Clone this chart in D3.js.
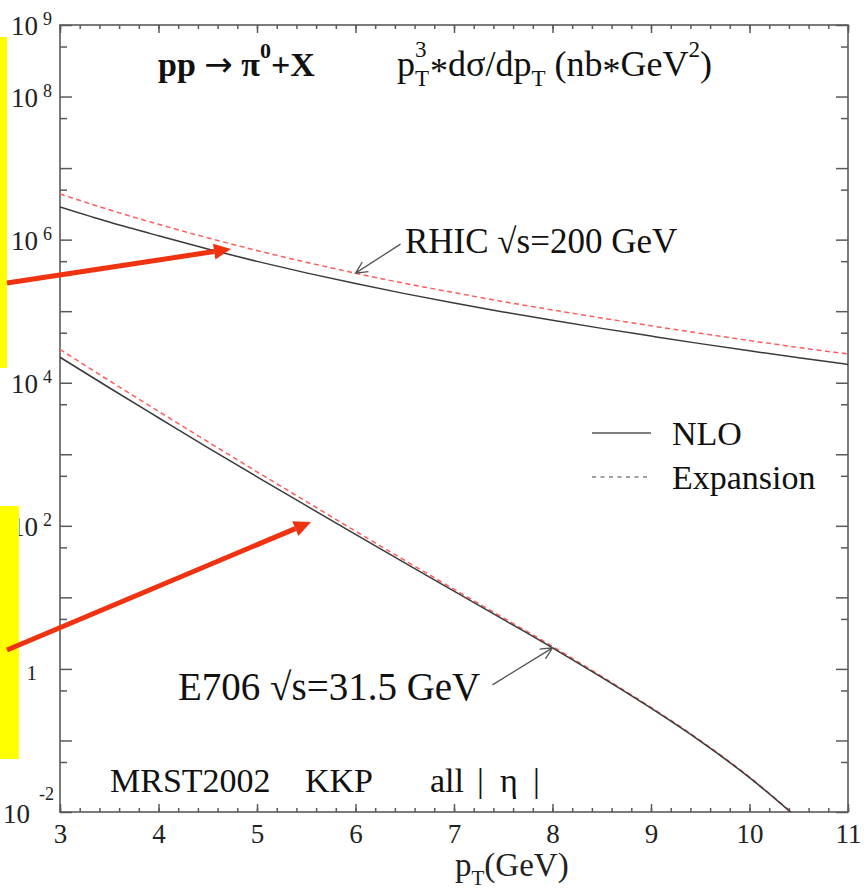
<!DOCTYPE html>
<html>
<head>
<meta charset="utf-8">
<script src="https://cdn.jsdelivr.net/npm/d3@7"></script>
<style>
  body { margin: 0; background: #fff; }
  svg { display: block; }
  svg text { font-family: 'Liberation Serif', 'Times New Roman', serif; }
  .axis path.domain { display: none; }
  .axis line { stroke: #5a5a5a; stroke-width: 1.5; }
  .axis text { font-family: 'Liberation Serif', serif; font-size: 27px; fill: #222; }
</style>
</head>
<body>
<svg id="chart" width="864" height="894"></svg>
<script>
// transverse momentum grid (GeV)
var pT = [3, 3.5, 4, 4.5, 5, 5.5, 6, 6.5, 7, 7.5, 8, 8.5, 9, 9.5, 10, 10.5, 11];

// pT^3 * dsigma/dpT (nb*GeV^2)
var rhicNLO = [2.86e6, 1.76e6, 1.13e6, 7.38e5, 4.97e5, 3.43e5, 2.43e5, 1.76e5, 1.30e5,
               9.77e4, 7.45e4, 5.75e4, 4.49e4, 3.52e4, 2.79e4, 2.23e4, 1.80e4];
var rhicExp = [4.35e6, 2.61e6, 1.64e6, 1.06e6, 7.05e5, 4.83e5, 3.40e5, 2.45e5, 1.82e5,
               1.36e5, 1.04e5, 8.02e4, 6.25e4, 4.91e4, 3.89e4, 3.11e4, 2.52e4];
var e706NLO = [2.27e4, 8.51e3, 3.24e3, 1.24e3, 484, 191, 75.9, 30.3, 12.2,
               4.92, 1.97, 0.759, 0.282, 0.0977, 0.0302, 0.00794];
var e706Exp = [2.92e4, 1.07e4, 3.98e3, 1.50e3, 569, 219, 84.1, 32.9, 13.0,
               5.18, 2.06, 0.785, 0.290, 0.100, 0.0308, 0.00804];

var xTickValues = [3, 4, 5, 6, 7, 8, 9, 10, 11];
var yLabelExponents = [9, 8, 6, 4, 2, 0, -2];
var legendNames = ['NLO', 'Expansion'];

(function drawChart() {
  var svg = d3.select('#chart'),
      left = 60, top = 25, right = 848, bottom = 812;

  var x = d3.scaleLinear().domain([3, 11]).range([left, right]);
  var y = d3.scaleLog().domain([1e-2, 1e9]).range([bottom, top]);

  // tick positions
  var xMinor = d3.range(0, 41).map(function(i) { return 3 + i * 0.2; });
  var decades = d3.range(-2, 10).map(function(e) { return Math.pow(10, e); });
  var yMinor = d3.range(-2, 9).map(function(e) { return 5 * Math.pow(10, e); });

  // Clip for the curves
  svg.append('clipPath').attr('id', 'plotClip')
    .append('rect')
      .attr('x', left).attr('y', top)
      .attr('width', right - left).attr('height', bottom - top);

  // Ticks, all pointing inwards
  svg.append('g').attr('class', 'axis')
    .attr('transform', 'translate(0,' + bottom + ')')
    .call(d3.axisBottom(x).tickValues(xMinor).tickSize(-4).tickFormat(''));
  svg.append('g').attr('class', 'axis')
    .attr('transform', 'translate(0,' + bottom + ')')
    .call(d3.axisBottom(x).tickValues(xTickValues).tickSize(-8).tickPadding(12)
      .tickFormat(d3.format('d')));
  svg.append('g').attr('class', 'axis')
    .attr('transform', 'translate(0,' + top + ')')
    .call(d3.axisTop(x).tickValues(xMinor).tickSize(-4).tickFormat(''));
  svg.append('g').attr('class', 'axis')
    .attr('transform', 'translate(0,' + top + ')')
    .call(d3.axisTop(x).tickValues(xTickValues).tickSize(-8).tickFormat(''));

  svg.append('g').attr('class', 'axis')
    .attr('transform', 'translate(' + left + ',0)')
    .call(d3.axisLeft(y).tickValues(decades).tickSize(-12).tickFormat(''));
  svg.append('g').attr('class', 'axis')
    .attr('transform', 'translate(' + left + ',0)')
    .call(d3.axisLeft(y).tickValues(yMinor).tickSize(-7).tickFormat(''));
  svg.append('g').attr('class', 'axis')
    .attr('transform', 'translate(' + right + ',0)')
    .call(d3.axisRight(y).tickValues(decades).tickSize(-12).tickFormat(''));
  svg.append('g').attr('class', 'axis')
    .attr('transform', 'translate(' + right + ',0)')
    .call(d3.axisRight(y).tickValues(yMinor).tickSize(-7).tickFormat(''));

  // Frame
  svg.append('rect')
    .attr('x', left).attr('y', top)
    .attr('width', right - left).attr('height', bottom - top)
    .attr('fill', 'none')
    .attr('stroke', '#5a5a5a')
    .attr('stroke-width', 1.6);

  // Y labels: 10 with exponent
  yLabelExponents.forEach(function(e) {
    var yy = y(Math.pow(10, e));
    if (e === 0) {
      svg.append('text')
        .attr('x', 37).attr('y', yy + 11)
        .attr('text-anchor', 'end')
        .style('font-size', '21px').style('fill', '#222')
        .text('1');
      return;
    }
    var neg = e < 0;
    svg.append('text')
      .attr('x', neg ? 30 : 38).attr('y', yy + (neg ? 11 : 10))
      .attr('text-anchor', 'end')
      .style('font-size', '27px').style('fill', '#222')
      .text('10');
    svg.append('text')
      .attr('x', neg ? 39 : 43).attr('y', yy + (neg ? -12 : 0))
      .style('font-size', '18px').style('fill', '#222')
      .text(String(e));
  });

  // X label
  var xl = svg.append('text')
    .attr('x', 455).attr('y', 876)
    .style('font-size', '33px').style('fill', '#222');
  xl.append('tspan').text('p');
  xl.append('tspan').attr('dy', 9).style('font-size', '21px').text('T');
  xl.append('tspan').attr('dy', -9).text('(GeV)');

  // Curves
  var line = d3.line()
    .x(function(d) { return x(d[0]); })
    .y(function(d) { return y(d[1]); })
    .curve(d3.curveMonotoneX);

  var curves = [
    {values: rhicExp, dashed: true},
    {values: e706Exp, dashed: true},
    {values: rhicNLO, dashed: false},
    {values: e706NLO, dashed: false}
  ];
  svg.append('g').attr('clip-path', 'url(#plotClip)')
    .selectAll('path')
    .data(curves)
    .enter().append('path')
      .attr('d', function(c) { return line(d3.zip(pT, c.values)); })
      .attr('fill', 'none')
      .attr('stroke', function(c) { return c.dashed ? '#ff5c5c' : '#3a3a3a'; })
      .attr('stroke-width', 1.5)
      .attr('stroke-dasharray', function(c) { return c.dashed ? '5,3.5' : null; });

  // Title texts
  var t1 = svg.append('text')
    .attr('x', 158).attr('y', 76)
    .style('font-size', '34px').style('font-weight', 'bold').style('fill', '#111');
  t1.append('tspan').text('pp ');
  t1.append('tspan')
    .style('font-family', "'DejaVu Sans', sans-serif")
    .style('font-weight', 'normal')
    .text('\u2192');
  t1.append('tspan').text(' \u03c0');
  t1.append('tspan').attr('dy', -18).style('font-size', '22px').text('0');
  t1.append('tspan').attr('dy', 18).text('+X');

  // p_T^3 with T below and 3 above, stacked
  var t2 = svg.append('text')
    .attr('x', 397).attr('y', 76)
    .style('font-size', '36px').style('fill', '#111');
  t2.append('tspan').text('p');
  var sub = t2.append('tspan').attr('dy', 10).style('font-size', '23px').text('T');
  var sup = t2.append('tspan')
    .attr('dx', -sub.node().getComputedTextLength())
    .attr('dy', -29).style('font-size', '23px').text('3');
  var gap = sub.node().getComputedTextLength() - sup.node().getComputedTextLength();
  t2.append('tspan').attr('dx', Math.max(gap, 0) + 1).attr('dy', 26).text('*');
  t2.append('tspan').attr('dy', -7).text('d\u03c3/dp');
  t2.append('tspan').attr('dy', 10).style('font-size', '23px').text('T');
  t2.append('tspan').attr('dy', -10).text(' (nb');
  t2.append('tspan').attr('dy', 7).text('*');
  t2.append('tspan').attr('dy', -7).text('GeV');
  t2.append('tspan').attr('dy', -19).style('font-size', '23px').text('2');
  t2.append('tspan').attr('dy', 19).text(')');

  // Curve annotations with open arrows
  function openArrow(tip, dx, dy) {
    var ang = Math.atan2(-dy, -dx), len = 13, spread = 0.45;
    var p = d3.path();
    p.moveTo(tip[0] + dx, tip[1] + dy);
    p.lineTo(tip[0], tip[1]);
    p.moveTo(tip[0] + len * Math.cos(ang + Math.PI - spread), tip[1] + len * Math.sin(ang + Math.PI - spread));
    p.lineTo(tip[0], tip[1]);
    p.lineTo(tip[0] + len * Math.cos(ang + Math.PI + spread), tip[1] + len * Math.sin(ang + Math.PI + spread));
    svg.append('path')
      .attr('d', p.toString())
      .attr('fill', 'none')
      .attr('stroke', '#555')
      .attr('stroke-width', 1.3);
  }
  openArrow([x(pT[6]), y(rhicExp[6])], 45, -29);
  openArrow([x(pT[10]), y(e706NLO[10])], -60, 37);

  svg.append('text')
    .attr('x', 405).attr('y', 253)
    .style('font-size', '35px').style('fill', '#111')
    .text('RHIC \u221as=200 GeV');
  svg.append('text')
    .attr('x', 178).attr('y', 700)
    .style('font-size', '39px').style('fill', '#111')
    .text('E706 \u221as=31.5 GeV');

  // Legend
  var legend = svg.append('g');
  legendNames.forEach(function(name, i) {
    var ly = 433 + i * 44;
    legend.append('line')
      .attr('x1', 592).attr('x2', 651)
      .attr('y1', ly).attr('y2', ly)
      .attr('stroke', i === 0 ? '#555' : '#444')
      .attr('stroke-width', i === 0 ? 1.6 : 1.2)
      .attr('stroke-dasharray', i === 0 ? null : '4,4.5');
    legend.append('text')
      .attr('x', 672).attr('y', ly + 12)
      .style('font-size', '34px').style('fill', '#111')
      .text(name);
  });

  // Bottom note
  var note = [['MRST2002', 110], ['KKP', 305], ['all', 430], ['|', 477], ['\u03b7', 500], ['|', 533]];
  note.forEach(function(n) {
    svg.append('text')
      .attr('x', n[1]).attr('y', 792)
      .style('font-size', '34px').style('fill', '#111')
      .text(n[0]);
  });

  // Highlight overlays (yellow bars and red arrows)
  svg.append('rect').attr('x', 0).attr('y', 37).attr('width', 7).attr('height', 331)
    .attr('fill', '#ffff00');
  svg.append('rect').attr('x', 0).attr('y', 506).attr('width', 19).attr('height', 253)
    .attr('fill', '#ffff00');

  function redArrow(from, tip) {
    var ang = Math.atan2(tip[1] - from[1], tip[0] - from[0]),
        hl = 17, hw = 8,
        bx = tip[0] - hl * Math.cos(ang), by = tip[1] - hl * Math.sin(ang);
    svg.append('line')
      .attr('x1', from[0]).attr('y1', from[1])
      .attr('x2', bx).attr('y2', by)
      .attr('stroke', '#ef3311').attr('stroke-width', 5);
    svg.append('path')
      .attr('d', 'M' + tip[0] + ',' + tip[1] +
        'L' + (bx + hw * Math.sin(ang)) + ',' + (by - hw * Math.cos(ang)) +
        'L' + (bx - hw * Math.sin(ang)) + ',' + (by + hw * Math.cos(ang)) + 'Z')
      .attr('fill', '#ef3311');
  }
  redArrow([7, 283], [231, 249]);
  redArrow([7, 650], [311, 522]);
}());
</script>
</body>
</html>
